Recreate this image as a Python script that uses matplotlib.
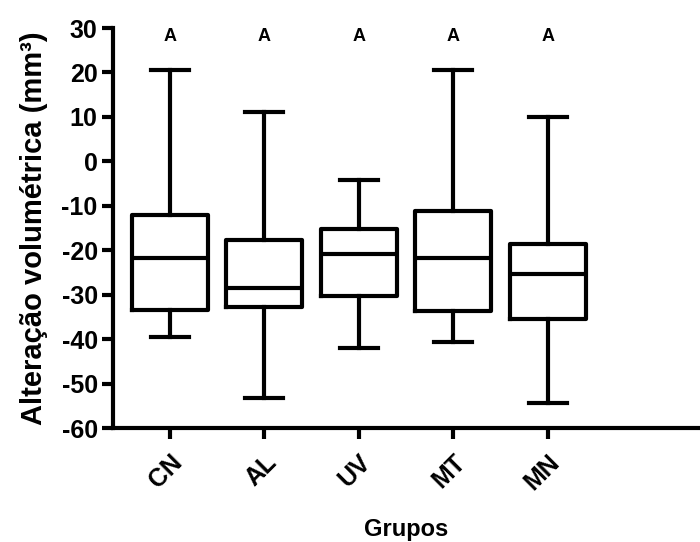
import matplotlib
matplotlib.use("Agg")
import matplotlib.pyplot as plt

# box statistics (whiskers = min/max)
groups = ["CN", "AL", "UV", "MT", "MN"]
mins = [-39.6, -53.3, -41.9, -40.6, -54.3]
q1s = [-33.5, -32.8, -30.3, -33.7, -35.4]
medians = [-21.7, -28.5, -20.8, -21.7, -25.3]
q3s = [-12.1, -17.7, -15.2, -11.1, -18.6]
maxs = [20.5, 11.0, -4.3, 20.6, 10.0]
letters = ["A", "A", "A", "A", "A"]

plt.rcParams['font.family'] = ['Liberation Sans', 'DejaVu Sans']
plt.rcParams['font.weight'] = 'bold'
plt.rcParams['axes.unicode_minus'] = False

fig = plt.figure(figsize=(7, 5.42), dpi=100)
ax = fig.add_axes([113 / 700, 114 / 542, 586 / 700, 400 / 542])

stats = []
for g, lo, a, m, b, hi in zip(groups, mins, q1s, medians, q3s, maxs):
    stats.append(dict(label=g, whislo=lo, q1=a, med=m, q3=b, whishi=hi, fliers=[]))

lw = 3.0
pos = list(range(len(groups)))
ax.bxp(stats, positions=pos, widths=0.8, capwidths=0.4, showfliers=False,
       boxprops=dict(color='black', linewidth=lw),
       medianprops=dict(color='black', linewidth=lw),
       whiskerprops=dict(color='black', linewidth=lw),
       capprops=dict(color='black', linewidth=lw))

for x, t in zip(pos, letters):
    ax.text(x, 28.0, t, ha='center', va='center', fontsize=13, fontweight='bold')

ax.set_ylim(-60, 30)
ax.set_xlim(-0.6, 5.6)
ax.set_yticks(range(-60, 31, 10))
ax.set_xticks(pos)
ax.set_xticklabels(groups, rotation=45, ha='right', va='top', rotation_mode='anchor')

for s in ['top', 'right']:
    ax.spines[s].set_visible(False)
for s in ['left', 'bottom']:
    ax.spines[s].set_linewidth(lw)
ax.tick_params(width=lw, length=8, labelsize=18, direction='out')
ax.tick_params(axis='y', pad=3)
ax.tick_params(axis='x', pad=8)
for lab in ax.get_xticklabels() + ax.get_yticklabels():
    lab.set_fontweight('bold')

ax.set_ylabel("Alteração volumétrica (mm³)", fontsize=21, fontweight='bold', labelpad=10)
ax.set_xlabel("Grupos", fontsize=17, fontweight='bold', labelpad=17)

fig.savefig("out.png", dpi=100)
